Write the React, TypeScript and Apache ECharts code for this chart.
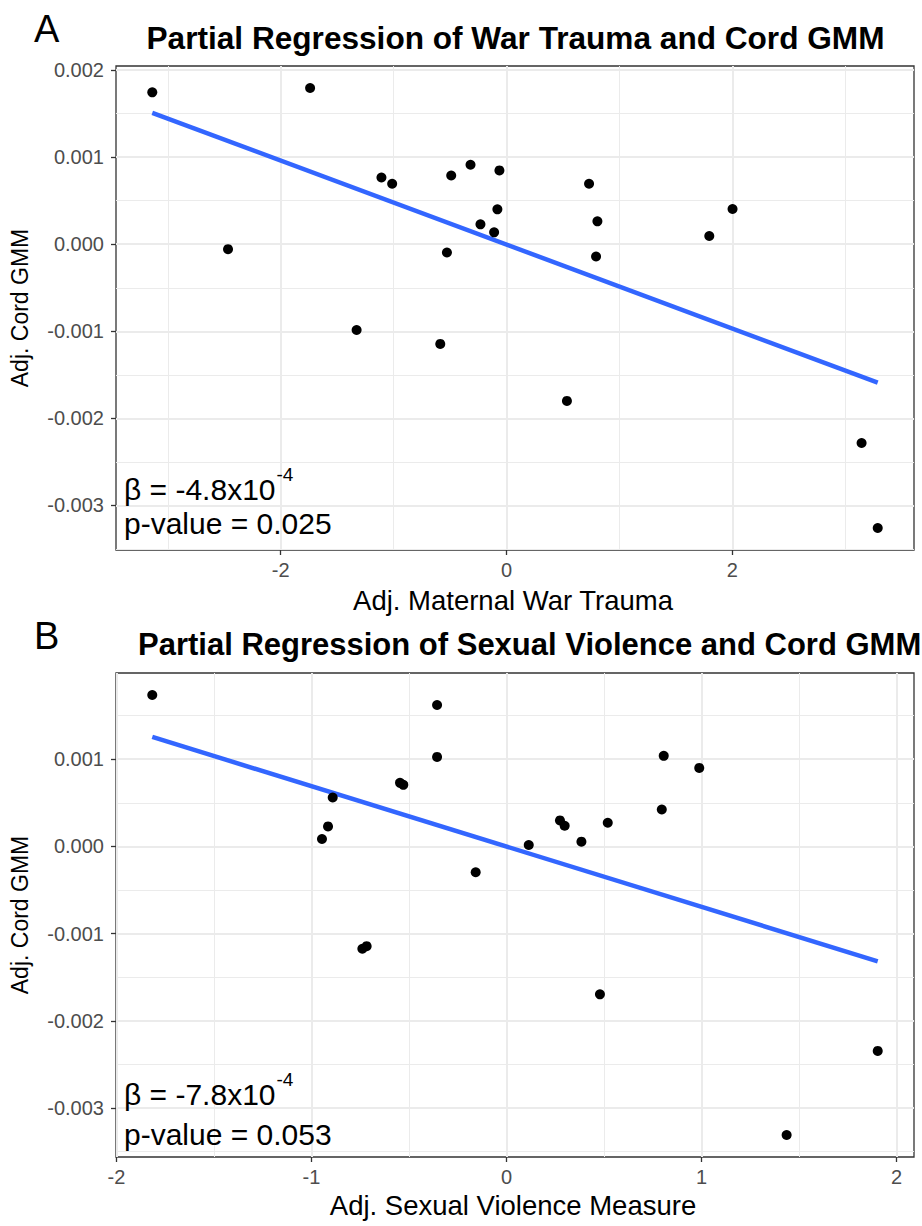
import React, { useEffect, useRef } from "react";
import * as echarts from "echarts";

// ---------- data ----------
const warTraumaX = [-3.138, -1.740, -2.467, -1.108, -1.013, -0.490, -0.319, -0.063, -0.081, -0.231, -0.110, -0.528, -1.328, -0.587, 0.535, 0.731, 0.805, 0.793, 1.796, 2.002, 3.145, 3.288];
const cordGmmA = [0.001745, 0.001795, -0.000057, 0.000767, 0.000695, 0.000790, 0.000913, 0.000848, 0.000401, 0.000229, 0.000137, -0.000095, -0.000985, -0.001145, -0.001800, 0.000695, 0.000263, -0.000141, 0.000095, 0.000405, -0.002283, -0.003260];

const violenceX = [-1.816, -0.356, -0.356, -0.546, -0.529, -0.891, -0.915, -0.946, -0.158, 0.806, 0.988, 0.796, 0.274, 0.298, 0.519, 0.384, 0.114, -0.739, -0.717, 0.479, 1.436, 1.903];
const cordGmmB = [0.001736, 0.001621, 0.001026, 0.000729, 0.000706, 0.000561, 0.000229, 0.000085, -0.000297, 0.001038, 0.000900, 0.000423, 0.000298, 0.000237, 0.000271, 0.000054, 0.000016, -0.001174, -0.001144, -0.001697, -0.003310, -0.002346];

// fitted regression lines (end points)
const fitAX = [-3.138, 3.288];
const fitAY = [0.00151, -0.00159];
const fitBX = [-1.816, 1.903];
const fitBY = [0.001255, -0.001319];

// tick / grid breaks
const xTicksA = [-2, 0, 2];
const xMinorA = [-3, -1, 1, 3];
const yTicksA = [-0.003, -0.002, -0.001, 0, 0.001, 0.002];
const yMinorA = [-0.0035, -0.0025, -0.0015, -0.0005, 0.0005, 0.0015];
const xTicksB = [-2, -1, 0, 1, 2];
const xMinorB = [-1.5, -0.5, 0.5, 1.5];
const yTicksB = [-0.003, -0.002, -0.001, 0, 0.001];
const yMinorB = [-0.0035, -0.0025, -0.0015, -0.0005, 0.0005, 0.0015];

// texts
const panelLetters = ["A", "B"];
const titles = [
  "Partial Regression of War Trauma and Cord GMM",
  "Partial Regression of Sexual Violence and Cord GMM",
];
const xNames = ["Adj. Maternal War Trauma", "Adj. Sexual Violence Measure"];
const yName = "Adj. Cord GMM";
const betas = ["-4.8", "-7.8"];
const betaExp = "-4";
const pValues = ["0.025", "0.053"];

const FONT = "'Liberation Sans', Arial, Helvetica, sans-serif";
const ANNOT_SIZE = 30;

const zip = (xs: number[], ys: number[]) => xs.map((x, i) => [x, ys[i]]);
const expand = (arr: number[]) => {
  const lo = Math.min(...arr);
  const hi = Math.max(...arr);
  const pad = (hi - lo) * 0.05;
  return [lo - pad, hi + pad];
};

const extXA = expand(warTraumaX);
const extYA = expand(cordGmmA);
const extXB = expand(violenceX);
const extYB = expand(cordGmmB);

const majorStyle = { color: "#ebebeb", width: 2, opacity: 1, type: "solid" };
const minorStyle = { color: "#ebebeb", width: 1, opacity: 1, type: "solid" };

function measureText(text: string, size: number) {
  const ctx = document.createElement("canvas").getContext("2d");
  if (!ctx) return text.length * size * 0.55;
  ctx.font = size + "px " + FONT;
  return ctx.measureText(text).width;
}

function gridSeries(idx: number, xs: number[], ys: number[], ex: number[], ey: number[], style: any) {
  return {
    type: "lines",
    coordinateSystem: "cartesian2d",
    xAxisIndex: idx,
    yAxisIndex: idx,
    polyline: false,
    silent: true,
    z: 1,
    effect: { show: false },
    lineStyle: style,
    data: [
      ...xs.map((v) => ({ coords: [[v, ey[0]], [v, ey[1]]] })),
      ...ys.map((v) => ({ coords: [[ex[0], v], [ex[1], v]] })),
    ],
  };
}

function xAxisOpt(gridIndex: number, ext: number[], ticks: number[]) {
  return {
    type: "value",
    gridIndex,
    min: ext[0],
    max: ext[1],
    axisLine: { show: false, onZero: false },
    axisTick: { show: true, length: 5, customValues: ticks, lineStyle: { color: "#333333", width: 1.3 } },
    axisLabel: {
      customValues: ticks,
      color: "#4d4d4d",
      fontSize: 20,
      fontFamily: FONT,
      margin: 10,
      formatter: (v: number) => String(v),
    },
    splitLine: { show: false },
    minorSplitLine: { show: false },
  };
}

function yAxisOpt(gridIndex: number, ext: number[], ticks: number[]) {
  return {
    type: "value",
    gridIndex,
    min: ext[0],
    max: ext[1],
    axisLine: { show: false, onZero: false },
    axisTick: { show: true, length: 5, customValues: ticks, lineStyle: { color: "#333333", width: 1.3 } },
    axisLabel: {
      customValues: ticks,
      color: "#4d4d4d",
      fontSize: 20,
      fontFamily: FONT,
      margin: 12,
      formatter: (v: number) => v.toFixed(3),
    },
    splitLine: { show: false },
    minorSplitLine: { show: false },
  };
}

export default function App() {
  const ref = useRef<HTMLDivElement>(null);

  useEffect(() => {
    document.body.style.margin = "0";
    if (!ref.current) return;
    const chart = echarts.init(ref.current, undefined, { renderer: "svg" });

    const grids = [
      { left: 116, top: 66, width: 798, height: 484 },
      { left: 116, top: 673, width: 798, height: 484 },
    ].map((g) => ({
      ...g,
      show: true,
      borderColor: "#333333",
      borderWidth: 1.3,
      backgroundColor: "#ffffff",
      containLabel: false,
      outerBoundsMode: "none",
    }));

    const panelOffsets = [0, 607];
    const betaY = [489.5, 1094];
    const pY = [523.5, 1134];
    const graphic: any[] = [];
    panelLetters.forEach((letter, i) => {
      const off = panelOffsets[i];
      graphic.push({
        type: "text",
        z: 100,
        x: 34,
        y: 28.5 + off,
        style: { text: letter, fontSize: 38, fontFamily: FONT, fill: "#000", align: "left", verticalAlign: "middle" },
      });
      graphic.push({
        type: "text",
        z: 100,
        x: i === 0 ? 515.5 : 138,
        y: 37.5 + off,
        style: {
          text: titles[i],
          fontSize: i === 0 ? 31.6 : 31,
          fontWeight: "bold",
          fontFamily: FONT,
          fill: "#000",
          align: i === 0 ? "center" : "left",
          verticalAlign: "middle",
        },
      });
      graphic.push({
        type: "text",
        z: 100,
        x: 513,
        y: 600 + (i === 0 ? 0 : 605),
        style: { text: xNames[i], fontSize: 27.5, fontFamily: FONT, fill: "#000", align: "center", verticalAlign: "middle" },
      });
      graphic.push({
        type: "text",
        z: 100,
        x: 20,
        y: 308 + off,
        rotation: Math.PI / 2,
        style: { text: yName, fontSize: 23, fontFamily: FONT, fill: "#000", align: "center", verticalAlign: "middle" },
      });
      const betaText = "β = " + betas[i] + "x10";
      graphic.push({
        type: "text",
        z: 100,
        x: 124,
        y: betaY[i],
        style: { text: betaText, fontSize: ANNOT_SIZE, fontFamily: FONT, fill: "#000", align: "left", verticalAlign: "middle" },
      });
      graphic.push({
        type: "text",
        z: 100,
        x: 124 + measureText(betaText, ANNOT_SIZE) + 1,
        y: betaY[i] - 15,
        style: { text: betaExp, fontSize: 19, fontFamily: FONT, fill: "#000", align: "left", verticalAlign: "middle" },
      });
      graphic.push({
        type: "text",
        z: 100,
        x: 124,
        y: pY[i],
        style: { text: "p-value = " + pValues[i], fontSize: ANNOT_SIZE, fontFamily: FONT, fill: "#000", align: "left", verticalAlign: "middle" },
      });
    });

    const option: any = {
      animation: false,
      backgroundColor: "#ffffff",
      textStyle: { fontFamily: FONT },
      grid: grids,
      xAxis: [xAxisOpt(0, extXA, xTicksA), xAxisOpt(1, extXB, xTicksB)],
      yAxis: [yAxisOpt(0, extYA, yTicksA), yAxisOpt(1, extYB, yTicksB)],
      graphic,
      series: [
        gridSeries(0, xMinorA, yMinorA, extXA, extYA, minorStyle),
        gridSeries(0, xTicksA, yTicksA, extXA, extYA, majorStyle),
        gridSeries(1, xMinorB, yMinorB, extXB, extYB, minorStyle),
        gridSeries(1, xTicksB, yTicksB, extXB, extYB, majorStyle),
        {
          type: "line",
          xAxisIndex: 0,
          yAxisIndex: 0,
          data: zip(fitAX, fitAY),
          symbol: "none",
          lineStyle: { color: "#3366FF", width: 4.5 },
          z: 3,
          silent: true,
        },
        {
          type: "line",
          xAxisIndex: 1,
          yAxisIndex: 1,
          data: zip(fitBX, fitBY),
          symbol: "none",
          lineStyle: { color: "#3366FF", width: 4.5 },
          z: 3,
          silent: true,
        },
        {
          type: "scatter",
          xAxisIndex: 0,
          yAxisIndex: 0,
          data: zip(warTraumaX, cordGmmA),
          symbolSize: 10,
          itemStyle: { color: "#000000", opacity: 1 },
          z: 4,
          silent: true,
        },
        {
          type: "scatter",
          xAxisIndex: 1,
          yAxisIndex: 1,
          data: zip(violenceX, cordGmmB),
          symbolSize: 10,
          itemStyle: { color: "#000000", opacity: 1 },
          z: 4,
          silent: true,
        },
      ],
    };

    chart.setOption(option);
    return () => chart.dispose();
  }, []);

  return <div ref={ref} style={{ position: "absolute", left: 0, top: 0, width: 922, height: 1226 }} />;
}
